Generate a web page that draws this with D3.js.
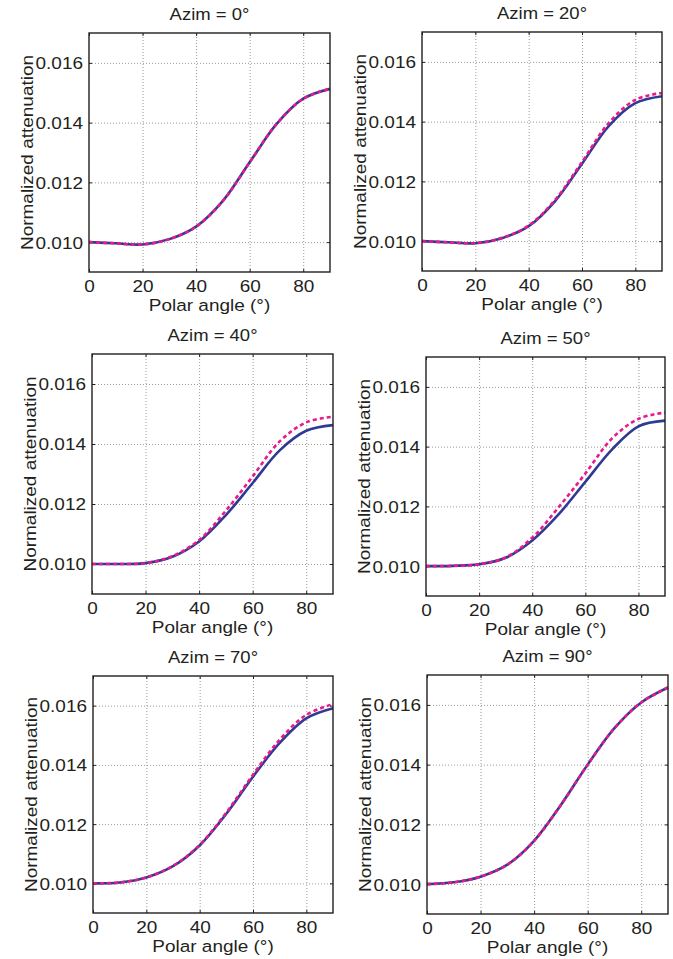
<!DOCTYPE html>
<html>
<head>
<meta charset="utf-8">
<script src="https://cdn.jsdelivr.net/npm/d3@7"></script>
<style>
  body { margin: 0; background: #fff; }
  text { font-family: "Liberation Sans", Arial, Helvetica, sans-serif; fill: #231f20; }
</style>
</head>
<body>
<svg id="chart" width="673" height="959"></svg>
<script>
const width = 673;
const height = 959;

// data
const azims = [0, 20, 40, 50, 70, 90];
const polarAngles = [0, 10, 20, 30, 40, 50, 60, 70, 80, 90];
const xTicks = [0, 20, 40, 60, 80];
const yTicks = [0.010, 0.012, 0.014, 0.016];

const solidAz0 = [0.01000, 0.00996, 0.00992, 0.01010, 0.01052, 0.01138, 0.01267, 0.01395, 0.01480, 0.01513];
const dashAz0 = [0.01000, 0.00996, 0.00992, 0.01010, 0.01052, 0.01138, 0.01267, 0.01395, 0.01480, 0.01513];
const solidAz20 = [0.01000, 0.00996, 0.00993, 0.01010, 0.01050, 0.01135, 0.01259, 0.01385, 0.01462, 0.01485];
const dashAz20 = [0.01000, 0.00996, 0.00993, 0.01011, 0.01052, 0.01139, 0.01265, 0.01395, 0.01473, 0.01496];
const solidAz40 = [0.01000, 0.01000, 0.01003, 0.01024, 0.01075, 0.01163, 0.01270, 0.01378, 0.01444, 0.01463];
const dashAz40 = [0.01000, 0.01000, 0.01003, 0.01026, 0.01080, 0.01178, 0.01292, 0.01408, 0.01472, 0.01491];
const solidAz50 = [0.01000, 0.01001, 0.01006, 0.01028, 0.01086, 0.01174, 0.01282, 0.01390, 0.01468, 0.01487];
const dashAz50 = [0.01000, 0.01001, 0.01006, 0.01029, 0.01095, 0.01198, 0.01310, 0.01427, 0.01493, 0.01514];
const solidAz70 = [0.01000, 0.01003, 0.01020, 0.01058, 0.01128, 0.01235, 0.01360, 0.01474, 0.01557, 0.01591];
const dashAz70 = [0.01000, 0.01003, 0.01020, 0.01059, 0.01130, 0.01239, 0.01367, 0.01485, 0.01569, 0.01605];
const solidAz90 = [0.01000, 0.01006, 0.01025, 0.01065, 0.01145, 0.01265, 0.01400, 0.01522, 0.01608, 0.01658];
const dashAz90 = [0.01000, 0.01006, 0.01025, 0.01065, 0.01145, 0.01265, 0.01400, 0.01522, 0.01608, 0.01658];

const solidSeries = [solidAz0, solidAz20, solidAz40, solidAz50, solidAz70, solidAz90];
const dashSeries = [dashAz0, dashAz20, dashAz40, dashAz50, dashAz70, dashAz90];

// plot boxes (left, top, right, bottom)
const boxes = [
  [89, 33, 330, 272],
  [422, 32, 662, 271],
  [92, 354, 333, 594],
  [426, 357, 665, 596],
  [93, 676, 333, 913],
  [427, 675, 668, 914]
];

const blue = "#2e3a93";
const pink = "#e8198b";
const ink = "#231f20";
const stretch = 1.15;

const svg = d3.select("#chart");

azims.forEach((az, i) => {
  const [x0, y0, x1, y1] = boxes[i];
  const w = x1 - x0, h = y1 - y0;
  const g = svg.append("g").attr("transform", `translate(${x0},${y0})`);

  const x = d3.scaleLinear().domain([0, 90]).range([0, w]);
  const y = d3.scaleLinear().domain([0.009, 0.017]).range([h, 0]);

  // grid
  g.append("g")
    .call(d3.axisBottom(x).tickValues(xTicks.slice(1)).tickSize(-h).tickFormat(""))
    .attr("transform", `translate(0,${h})`)
    .call(s => s.select(".domain").remove())
    .selectAll("line").attr("stroke", "#9a9a9a").attr("stroke-width", 1).attr("stroke-dasharray", "1,2");
  g.append("g")
    .call(d3.axisLeft(y).tickValues(yTicks).tickSize(-w).tickFormat(""))
    .call(s => s.select(".domain").remove())
    .selectAll("line").attr("stroke", "#9a9a9a").attr("stroke-width", 1).attr("stroke-dasharray", "1,2");

  // inward ticks on the four sides
  const tick = 3;
  const axB = g.append("g").attr("transform", `translate(0,${h})`)
    .call(d3.axisBottom(x).tickValues(xTicks).tickSize(-tick).tickPadding(0).tickFormat(d3.format("d")));
  const axT = g.append("g")
    .call(d3.axisTop(x).tickValues(xTicks).tickSize(-tick).tickFormat(""));
  const axL = g.append("g")
    .call(d3.axisLeft(y).tickValues(yTicks).tickSize(-tick).tickFormat(d3.format(".3f")));
  const axR = g.append("g").attr("transform", `translate(${w},0)`)
    .call(d3.axisRight(y).tickValues(yTicks).tickSize(-tick).tickFormat(""));
  [axB, axT, axL, axR].forEach(a => {
    a.select(".domain").remove();
    a.selectAll("line").attr("stroke", ink).attr("stroke-width", 1);
  });

  axB.selectAll("text")
    .attr("font-size", 16.5).attr("fill", ink)
    .attr("y", 0).attr("dy", null)
    .attr("transform", `translate(0,20) scale(${stretch},1)`);
  axL.selectAll("text")
    .attr("font-size", 16.5).attr("fill", ink)
    .attr("x", 0).attr("dy", "0.36em")
    .attr("transform", `translate(-6,0) scale(${stretch},1)`);

  // curves
  const line = d3.line()
    .x((d, j) => x(polarAngles[j]))
    .y(d => y(d))
    .curve(d3.curveCatmullRom.alpha(0.5));

  g.append("path").datum(solidSeries[i])
    .attr("d", line).attr("fill", "none")
    .attr("stroke", blue).attr("stroke-width", 2.6);
  g.append("path").datum(dashSeries[i])
    .attr("d", line).attr("fill", "none")
    .attr("stroke", pink).attr("stroke-width", 2.6)
    .attr("stroke-dasharray", "4,3");

  // frame
  g.append("rect").attr("width", w).attr("height", h)
    .attr("fill", "none").attr("stroke", ink).attr("stroke-width", 1.4);

  // title and labels
  g.append("text")
    .attr("transform", `translate(${w / 2},${-13}) scale(1.17,1)`)
    .attr("text-anchor", "middle").attr("font-size", 15.8)
    .text(`Azim = ${az}°`);
  g.append("text")
    .attr("transform", `translate(${w / 2},${h + 39}) scale(${stretch},1)`)
    .attr("text-anchor", "middle").attr("font-size", 16.5)
    .text("Polar angle (°)");
  g.append("text")
    .attr("transform", `translate(-56,${h / 2}) rotate(-90) scale(${stretch},1)`)
    .attr("text-anchor", "middle").attr("font-size", 16.5)
    .text("Normalized attenuation");
});
</script>
</body>
</html>
